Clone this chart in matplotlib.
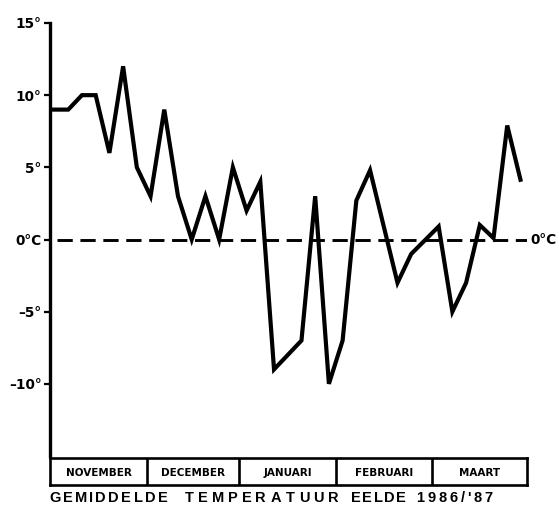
import matplotlib
matplotlib.use("Agg")
import matplotlib.pyplot as plt
from matplotlib.textpath import TextPath
from matplotlib.font_manager import FontProperties

plt.rcParams['font.family'] = ['DejaVu Sans']
plt.rcParams['lines.scale_dashes'] = False

# Data (x = period index, y = mean temperature in °C)
period = [-0.33, 1, 2, 3, 4, 5, 6, 7, 8, 9, 10, 11, 12, 13, 14, 15, 16,
          18, 19, 20, 21, 22, 23, 25, 26, 28, 29, 30, 31, 32, 33, 34]
temperature = [9, 9, 10, 10, 6, 12, 5, 3, 9, 3, 0, 3, 0, 5, 2, 4, -9,
               -7, 3, -10, -7, 2.7, 4.8, -3, -1, 0.9, -5, -3, 1, 0.1, 7.9, 4]

months = ["NOVEMBER", "DECEMBER", "JANUARI", "FEBRUARI", "MAART"]
month_edges = [-0.33, 6.74, 13.45, 20.52, 27.51, 34.44]

ytick_values = [15, 10, 5, 0, -5, -10]
ytick_labels = ["15°", "10°", "5°", "0°C", "–5°", "–10°"]

title_words = ["GEMIDDELDE", "TEMPERATUUR", "EELDE", "1986/'87"]

W, H = 559, 514
fig = plt.figure(figsize=(W / 100, H / 100), dpi=100)

ax = fig.add_axes([50 / W, 58 / H, 477 / W, 433 / H])
ax.set_xlim(month_edges[0], month_edges[-1])
ax.set_ylim(-15, 15)

ax.plot(period, temperature, color='black', lw=3.0, solid_joinstyle='miter',
        solid_capstyle='butt')
ax.plot([0.2, month_edges[-1]], [0, 0], color='black', lw=2.1,
        linestyle=(0, (11, 5.5)))

for s in ['top', 'right', 'bottom']:
    ax.spines[s].set_visible(False)
ax.spines['left'].set_linewidth(2.4)
ax.set_xticks([])
ax.set_yticks(ytick_values)
ax.set_yticklabels(ytick_labels, fontweight='bold', fontsize=9.8)
ax.tick_params(axis='y', length=4.5, width=1.6, pad=1.5, direction='out')

ax.text(1.008, 0, "0°C", transform=ax.get_yaxis_transform(), ha='left',
        va='center', fontweight='bold', fontsize=9.8)

# Month boxes
bx = fig.add_axes([50 / W, 29 / H, 477 / W, 27 / H])
bx.set_xlim(month_edges[0], month_edges[-1])
bx.set_ylim(0, 1)
bx.set_xticks([])
bx.set_yticks([])
for s in bx.spines.values():
    s.set_linewidth(1.9)
for e in month_edges[1:-1]:
    bx.axvline(e, color='black', lw=1.9)
for i, m in enumerate(months):
    bx.text((month_edges[i] + month_edges[i + 1]) / 2, 0.45, m, ha='center',
            va='center', fontweight='bold', fontsize=7.5)

# Title words, letter-spaced to span their measured extents (pixels)
word_spans = [(50, 167), (185, 338), (352, 405), (417, 492)]
title_size = 10.5
title_fp = FontProperties(family='Liberation Sans', weight='bold',
                          size=title_size)
px_per_pt = 100 / 72.0


def char_width(c):
    tp = TextPath((0, 0), c, prop=title_fp)
    return tp.get_extents().width * px_per_pt


for w, (x0, x1) in zip(title_words, word_spans):
    widths = [char_width(c) for c in w]
    gap = (x1 - x0 - sum(widths)) / max(len(w) - 1, 1)
    x = x0
    for c, cw in zip(w, widths):
        fig.text((x + cw / 2) / W, (H - 498) / H, c, ha='center',
                 va='center', fontproperties=title_fp)
        x += cw + gap

fig.savefig("out.png", dpi=100)
